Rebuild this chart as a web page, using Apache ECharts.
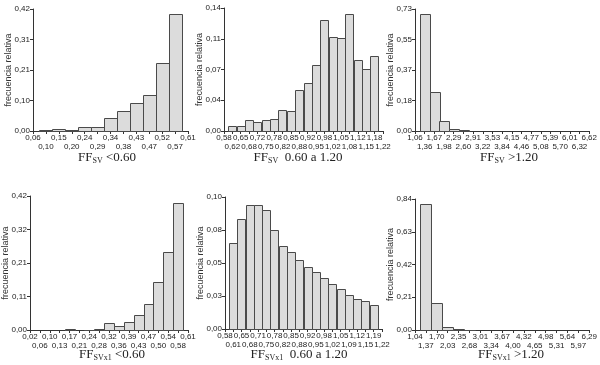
<!DOCTYPE html>
<html>
<head>
<meta charset="utf-8">
<script src="https://cdn.jsdelivr.net/npm/echarts@6/dist/echarts.min.js"></script>
<style>
  html, body { margin: 0; padding: 0; background: #fff; }
  #chart { width: 600px; height: 365px; }
</style>
</head>
<body>
<div id="chart"></div>
<script>
// tick labels (x: bin labels, y: axis labels) and relative frequencies per panel
const p1X = ['0,06','0,10','0,15','0,20','0,24','0,29','0,34','0,38','0,43','0,47','0,52','0,57','0,61'];
const p1Y = ['0,00','0,10','0,21','0,31','0,42'];
const p1V = [0.003, 0.006, 0.002, 0.015, 0.015, 0.045, 0.070, 0.098, 0.123, 0.235, 0.403];

const p2X = ['0,58','0,62','0,65','0,68','0,72','0,75','0,78','0,82','0,85','0,88','0,92','0,95','0,98','1,02','1,05','1,08','1,12','1,15','1,18','1,22'];
const p2Y = ['0,00','0,04','0,07','0,11','0,14'];
const p2V = [0.006, 0.006, 0.013, 0.010, 0.0125, 0.014, 0.024, 0.023, 0.047, 0.055, 0.075, 0.126, 0.107, 0.106, 0.133, 0.081, 0.071, 0.085];

const p3X = ['1,06','1,36','1,67','1,98','2,29','2,60','2,91','3,22','3,53','3,84','4,15','4,46','4,77','5,08','5,39','5,70','6,01','6,32','6,62'];
const p3Y = ['0,00','0,18','0,37','0,55','0,73'];
const p3V = [0.70, 0.235, 0.062, 0.012, 0.005, 0, 0, 0, 0, 0, 0, 0, 0, 0, 0, 0, 0];

const p4X = ['0,02','0,06','0,10','0,13','0,17','0,21','0,24','0,28','0,32','0,36','0,39','0,43','0,47','0,50','0,54','0,58','0,61'];
const p4Y = ['0,00','0,11','0,21','0,32','0,42'];
const p4V = [0, 0, 0, 0.002, 0, 0.001, 0.003, 0.021, 0.011, 0.025, 0.048, 0.083, 0.152, 0.245, 0.398];

const p5X = ['0,58','0,61','0,65','0,68','0,71','0,75','0,78','0,82','0,85','0,88','0,92','0,95','0,98','1,02','1,05','1,09','1,12','1,15','1,19','1,22'];
const p5Y = ['0,00','0,03','0,05','0,08','0,10'];
const p5V = [0.065, 0.083, 0.094, 0.094, 0.090, 0.075, 0.063, 0.058, 0.052, 0.047, 0.043, 0.039, 0.034, 0.030, 0.026, 0.023, 0.021, 0.018];

const p6X = ['1,04','1,37','1,70','2,03','2,35','2,68','3,01','3,34','3,67','4,00','4,32','4,65','4,98','5,31','5,64','5,97','6,29'];
const p6Y = ['0,00','0,21','0,42','0,63','0,84'];
const p6V = [0.807, 0.173, 0.02, 0.004, 0.003, 0, 0, 0, 0, 0, 0, 0, 0, 0, 0];

const yMax = [0.42, 0.14, 0.73, 0.42, 0.10, 0.84];
const titles = [
  ['SV', ' <0.60'], ['SV', '  0.60 a 1.20'], ['SV', ' >1.20'],
  ['SVx1', ' <0.60'], ['SVx1', '  0.60 a 1.20'], ['SVx1', ' >1.20']
];

const panels = [
  { x: p1X, y: p1Y, v: p1V, grid: { left: 33, top: 9, width: 155, height: 122 }, title: [107, 158] },
  { x: p2X, y: p2Y, v: p2V, grid: { left: 224, top: 8, width: 159, height: 123 }, title: [298, 158] },
  { x: p3X, y: p3Y, v: p3V, grid: { left: 415, top: 9, width: 181, height: 122 }, title: [509, 158] },
  { x: p4X, y: p4Y, v: p4V, grid: { left: 30, top: 196, width: 158, height: 134 }, title: [112, 355] },
  { x: p5X, y: p5Y, v: p5V, grid: { left: 225, top: 197, width: 157, height: 132 }, title: [299, 355] },
  { x: p6X, y: p6Y, v: p6V, grid: { left: 415, top: 199, width: 180, height: 131 }, title: [511, 355] }
];

const FONT = '"Liberation Sans", Arial, sans-serif';
const SERIF = '"Liberation Serif", "Times New Roman", serif';
const AXIS_COLOR = '#333';

// histogram bar: centered on its tick, one tick wide
function renderBar(params, api) {
  const c = api.value(0);
  const v = api.value(1);
  if (!v) return;
  const p0 = api.coord([c - 0.5, 0]);
  const p1 = api.coord([c + 0.5, v]);
  return {
    type: 'rect',
    shape: {
      x: Math.round(p0[0]) + 0.5,
      y: Math.round(p1[1]) + 0.5,
      width: Math.round(p1[0] - p0[0]),
      height: Math.round(p0[1] - p1[1])
    },
    style: { fill: '#dcdcdc', stroke: '#4a4a4a', lineWidth: 1 }
  };
}

// x axis for one row of labels (even ticks on row 1, odd ticks on row 2)
function xRow(k, n, labels, odd) {
  return {
    type: 'value',
    gridIndex: k,
    position: 'bottom',
    offset: 0,
    min: 0,
    max: n,
    interval: 1,
    splitLine: { show: false },
    axisLine: { show: !odd, lineStyle: { color: AXIS_COLOR, width: 1 } },
    axisTick: { show: !odd, length: 3, lineStyle: { color: AXIS_COLOR } },
    axisLabel: {
      margin: odd ? 11.5 : 3,
      fontSize: 8,
      fontFamily: FONT,
      color: '#222',
      showMinLabel: true,
      showMaxLabel: true,
      hideOverlap: false,
      formatter: (val) => {
        const i = Math.round(val);
        return (i % 2 === 1) === odd ? (labels[i] || '') : '';
      }
    }
  };
}

const grid = [], xAxis = [], yAxis = [], series = [], graphic = [];

panels.forEach((p, k) => {
  const n = p.x.length - 1;
  const max = yMax[k];
  grid.push(Object.assign({}, p.grid));
  xAxis.push(xRow(k, n, p.x, false), xRow(k, n, p.x, true));
  yAxis.push({
    type: 'value',
    gridIndex: k,
    min: 0,
    max: max,
    interval: max / 4,
    name: 'frecuencia relativa',
    nameLocation: 'middle',
    nameRotate: 90,
    nameGap: 20,
    nameMoveOverlap: false,
    nameTextStyle: { fontSize: 9, fontFamily: FONT, color: '#333' },
    splitLine: { show: false },
    axisLine: { show: true, lineStyle: { color: AXIS_COLOR, width: 1 } },
    axisTick: { show: true, length: 3, lineStyle: { color: AXIS_COLOR } },
    axisLabel: {
      margin: 3,
      fontSize: 8,
      fontFamily: FONT,
      color: '#222',
      showMinLabel: true,
      showMaxLabel: true,
      formatter: (val) => p.y[Math.round(val / (max / 4))] || ''
    }
  });
  series.push({
    type: 'custom',
    xAxisIndex: 2 * k,
    yAxisIndex: k,
    renderItem: renderBar,
    data: p.v.map((v, i) => [i + 1, v])
  });
  graphic.push({
    type: 'text',
    x: p.title[0],
    y: p.title[1],
    style: {
      text: '{a|FF}{b|' + titles[k][0] + '}{a|' + titles[k][1] + '}',
      align: 'center',
      verticalAlign: 'middle',
      rich: {
        a: { fontFamily: SERIF, fontSize: 13, fill: '#222', verticalAlign: 'bottom' },
        b: { fontFamily: SERIF, fontSize: 8, fill: '#222', verticalAlign: 'bottom' }
      }
    }
  });
});

const myChart = echarts.init(document.getElementById('chart'));
myChart.setOption({
  backgroundColor: '#fff',
  animation: false,
  grid: grid,
  xAxis: xAxis,
  yAxis: yAxis,
  series: series,
  graphic: graphic
});
</script>
</body>
</html>
